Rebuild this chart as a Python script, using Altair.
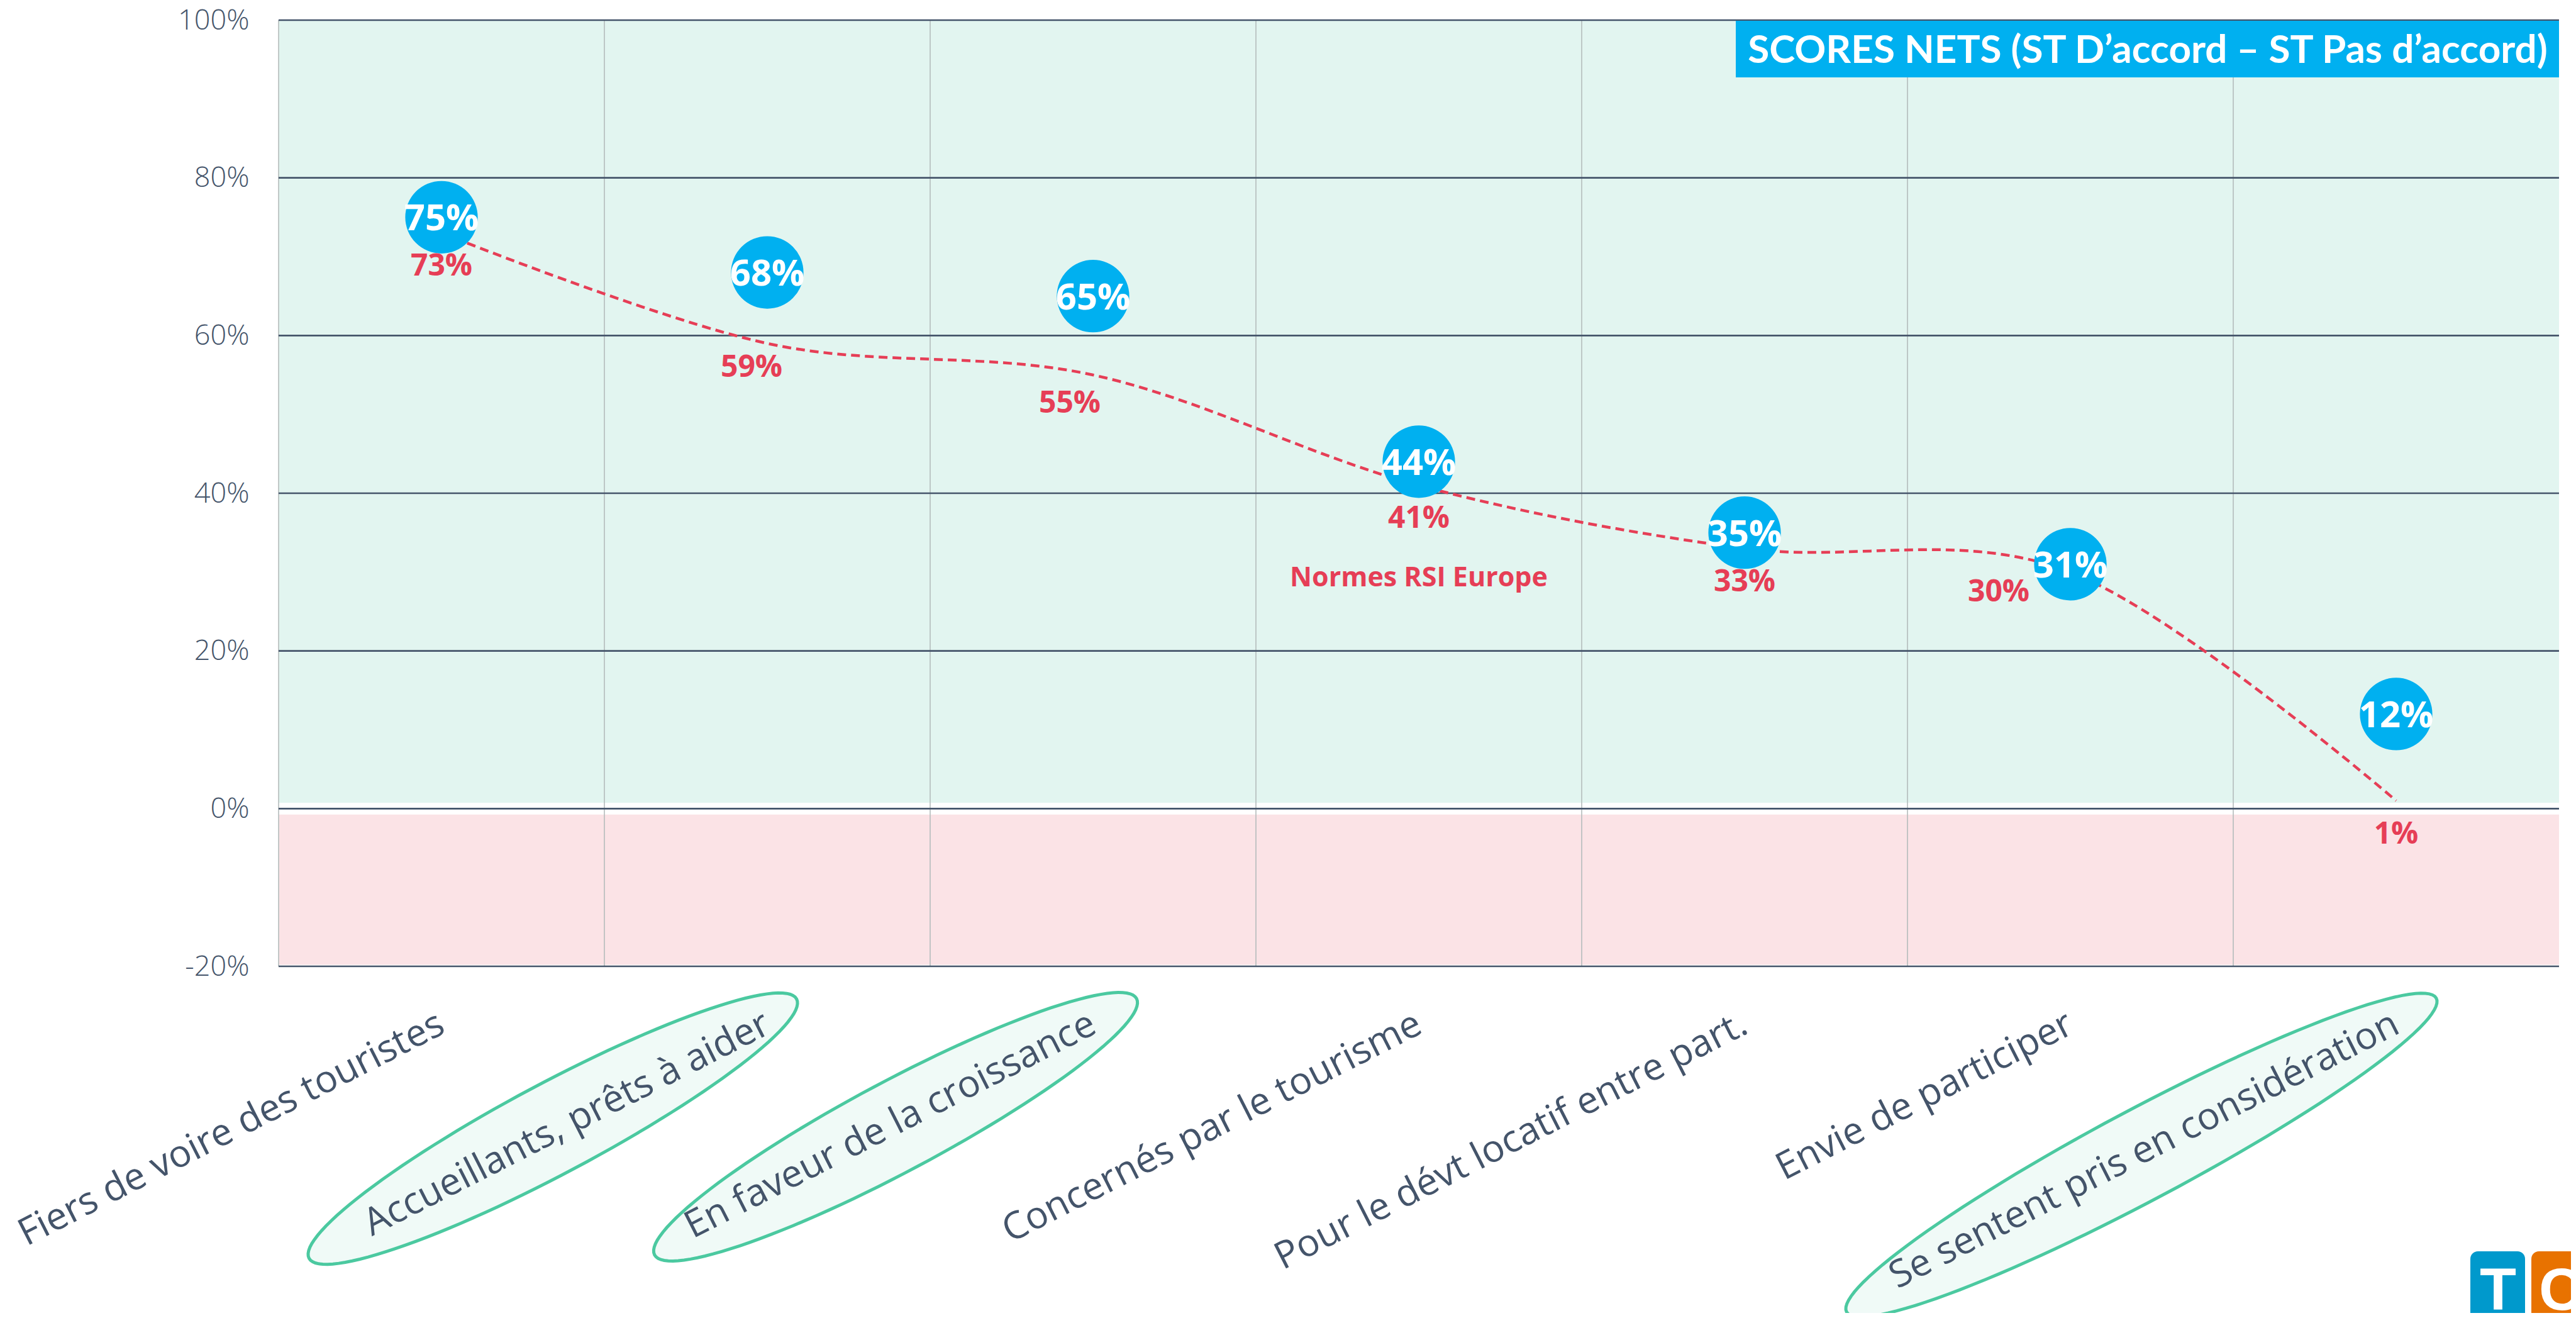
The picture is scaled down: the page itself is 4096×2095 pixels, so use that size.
import altair as alt
import pandas as pd
import numpy as np

# ---------------- data ----------------
categories = [
    "Fiers de voire des touristes",
    "Accueillants, prêts à aider",
    "En faveur de la croissance",
    "Concernés par le tourisme",
    "Pour le dévt locatif entre part.",
    "Envie de participer",
    "Se sentent pris en considération",
]
scores_nets = [0.75, 0.68, 0.65, 0.44, 0.35, 0.31, 0.12]
normes_rsi = [0.73, 0.59, 0.55, 0.41, 0.33, 0.30, 0.01]
y_ticks = [-0.2, 0.0, 0.2, 0.4, 0.6, 0.8, 1.0]
highlighted = [
    "Accueillants, prêts à aider",
    "En faveur de la croissance",
    "Se sentent pris en considération",
]
title_text = "SCORES NETS (ST D’accord – ST Pas d’accord)"
series_label = "Normes RSI Europe"
logo_letters = ["T", "C"]

# ---------------- layout / style ----------------
W, H = 3626, 1504
STEP = W / 7
FONT = "Open Sans"
BLUE = "#00B0F0"
RED = "#E63E56"
SLATE = "#44546A"
GREEN_BG = "#E2F5F0"
PINK_BG = "#FBE3E6"
VGRID = "#B4BCBC"
ELL_FILL = "#F0FAF7"
ELL_STROKE = "#4BC9A0"

df = pd.DataFrame({"cat": categories, "score": scores_nets, "rsi": normes_rsi})

x_axis = alt.Axis(
    title=None, labelAngle=333, labelAlign="right", labelBaseline="middle",
    labelPadding=88, labelFont=FONT, labelFontSize=60, labelColor=SLATE,
    ticks=False, domain=False, grid=False, labelLimit=3000,
    labelOverlap=False, zindex=1,
)
y_axis = alt.Axis(
    title=None, values=y_ticks, labelExpr="round(datum.value*100) + '%'",
    labelFont=FONT, labelFontWeight=300, labelFontSize=45, labelColor=SLATE,
    labelPadding=47, ticks=False, domain=False, grid=False, zindex=1,
)
x_scale = alt.Scale(type="point", padding=0.5)
y_scale = alt.Scale(domain=[-0.2, 1.0], nice=False, zero=False)


def X():
    return alt.X("cat:N", sort=categories, scale=x_scale, axis=x_axis)


def Y(field):
    return alt.Y(field, scale=y_scale, axis=y_axis)


# background zones (positive / negative)
bands = pd.DataFrame({"lo": [0.0075, -0.198], "hi": [1.0, -0.0075], "zone": ["pos", "neg"]})
band_layer = alt.Chart(bands).mark_rect().encode(
    y=Y("lo:Q"), y2="hi:Q",
    x=alt.value(0), x2=alt.value(W),
    color=alt.Color("zone:N", scale=alt.Scale(domain=["pos", "neg"], range=[GREEN_BG, PINK_BG]), legend=None),
)

# vertical separators between categories
vgrid = alt.Chart(df).mark_rule(color=VGRID, strokeWidth=1.6, xOffset=-STEP / 2).encode(
    x=X(), y=alt.value(0), y2=alt.value(H)
)

# horizontal gridlines
hgrid = alt.Chart(pd.DataFrame({"tick": y_ticks})).mark_rule(color=SLATE, strokeWidth=2.6).encode(
    y=Y("tick:Q"), x=alt.value(0), x2=alt.value(W)
)

# red dashed smoothed line (Normes RSI Europe)
red_line = alt.Chart(df).mark_line(
    color=RED, strokeWidth=4.5, strokeDash=[14, 8], interpolate="cardinal"
).encode(x=X(), y=Y("rsi:Q"))

# blue bubbles
bubbles = alt.Chart(df).mark_circle(size=13273, color=BLUE, opacity=1).encode(x=X(), y=Y("score:Q"))
bubble_text = alt.Chart(df).mark_text(
    font=FONT, fontWeight="bold", fontSize=58, color="white", baseline="middle", dy=4
).encode(x=X(), y=Y("score:Q"), text=alt.Text("score:Q", format=".0%"))

# red value labels (Excel-style, a few nudged)
label_nudge = {
    categories[1]: (-25, 39),
    categories[2]: (-37, 46),
    categories[5]: (-114, 33),
}
red_labels = []
for c in categories:
    dx, dy = label_nudge.get(c, (0, 54))
    red_labels.append(
        alt.Chart(df).transform_filter(alt.datum.cat == c).mark_text(
            font=FONT, fontWeight="bold", fontSize=48, color=RED, baseline="middle", dx=dx, dy=dy
        ).encode(x=X(), y=Y("rsi:Q"), text=alt.Text("rsi:Q", format=".0%"))
    )

series_text = alt.Chart(df).transform_filter(alt.datum.cat == categories[3]).mark_text(
    font=FONT, fontWeight="bold", fontSize=43, color=RED, baseline="middle", dy=148
).encode(x=X(), y=Y("rsi:Q"), text=alt.value(series_label))

# ellipses highlighting some categories
ellipse_geom = {
    highlighted[0]: (-341, 1762, 439),
    highlighted[1]: (-314, 1759, 434),
    highlighted[2]: (-405, 1804, 531),
}
ellipses = []
t = np.linspace(0, 2 * np.pi, 121)[:-1]
for c in highlighted:
    dx, yc, a = ellipse_geom[c]
    r = 72 / a
    path = "M " + " L ".join(f"{np.cos(tt):.5f} {r * np.sin(tt):.5f}" for tt in t) + " Z"
    ellipses.append(
        alt.Chart(df).transform_filter(alt.datum.cat == c).mark_point(
            shape=path, size=4 * a * a, angle=332, filled=True, fill=ELL_FILL,
            stroke=ELL_STROKE, strokeWidth=5, opacity=1, fillOpacity=1, strokeOpacity=1,
            xOffset=dx,
        ).encode(x=X(), y=alt.value(yc))
    )

# title box
tdf = pd.DataFrame({"t": [title_text]})
title_box = alt.Chart(tdf).mark_rect(color=BLUE).encode(
    x=alt.value(2317), x2=alt.value(W), y=alt.value(1), y2=alt.value(91)
)
title_lbl = alt.Chart(tdf).mark_text(
    font="Lato", fontWeight="bold", fontSize=62, color="white",
    align="center", baseline="alphabetic",
).encode(x=alt.value(2972), y=alt.value(68), text="t:N")

# logo (bottom-right, partly cut)
ldf = pd.DataFrame({"l": logo_letters})
logo_t_box = alt.Chart(ldf).transform_filter(alt.datum.l == "T").mark_rect(color="#0099CC", cornerRadius=12).encode(
    x=alt.value(3485), x2=alt.value(3572), y=alt.value(1957), y2=alt.value(2090)
)
logo_c_box = alt.Chart(ldf).transform_filter(alt.datum.l == "C").mark_rect(color="#E87200", cornerRadius=12).encode(
    x=alt.value(3582), x2=alt.value(3700), y=alt.value(1957), y2=alt.value(2090)
)
logo_t = alt.Chart(ldf).transform_filter(alt.datum.l == "T").mark_text(
    font="Liberation Sans", fontWeight="bold", fontSize=95, color="white", align="center", baseline="alphabetic"
).encode(x=alt.value(3529), y=alt.value(2050), text="l:N")
logo_c = alt.Chart(ldf).transform_filter(alt.datum.l == "C").mark_text(
    font="Liberation Sans", fontWeight="bold", fontSize=95, color="white", align="left", baseline="alphabetic"
).encode(x=alt.value(3594), y=alt.value(2050), text="l:N")

chart = alt.layer(
    band_layer, vgrid, hgrid, red_line, bubbles, bubble_text, *red_labels, series_text,
    *ellipses, title_box, title_lbl, logo_t_box, logo_c_box, logo_t, logo_c,
).properties(
    width=W, height=H,
    autosize=alt.AutoSizeParams(type="none"),
    padding={"left": 435, "top": 24, "right": 19, "bottom": 551},
    background="white",
).configure_view(stroke=None)

chart.save("out.html", embed_options={"renderer": "svg", "actions": False})
